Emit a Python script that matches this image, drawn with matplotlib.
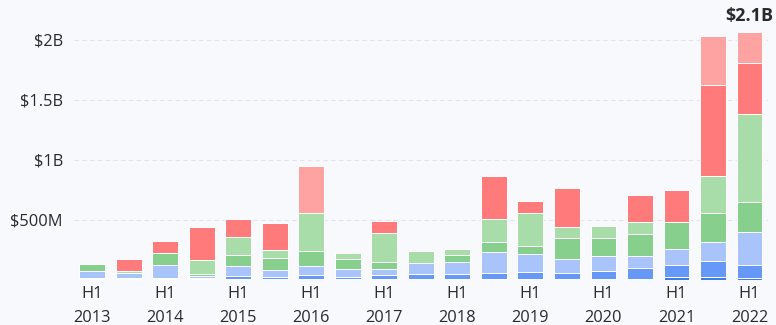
"""
半年度融资额堆叠柱状图
"""

import matplotlib
matplotlib.use("Agg")
import matplotlib.pyplot as plt
import numpy as np

plt.rcParams["font.family"] = ["Open Sans", "DejaVu Sans"]

# 半年度区间（2013 H1 - 2022 H1）
periods = [
    "H1 2013", "H2 2013", "H1 2014", "H2 2014", "H1 2015", "H2 2015",
    "H1 2016", "H2 2016", "H1 2017", "H2 2017", "H1 2018", "H2 2018",
    "H1 2019", "H2 2019", "H1 2020", "H2 2020", "H1 2021", "H2 2021",
    "H1 2022",
]

# 各分类金额（百万美元），自下而上堆叠
dark_blue = [5, 5, 5, 8, 8, 8, 8, 8, 8, 8, 8, 8, 8, 8, 8, 8, 22, 22, 14]
blue = [12, 12, 12, 8, 22, 19, 33, 19, 36, 42, 42, 47, 61, 53, 69, 94, 100, 138, 111]
light_blue = [55, 40, 112, 17, 83, 56, 78, 62, 45, 89, 100, 175, 145, 114, 122, 97, 133, 158, 272]
green = [58, 3, 94, 17, 97, 103, 125, 83, 58, 0, 61, 88, 69, 175, 153, 183, 225, 237, 255]
light_green = [0, 12, 0, 117, 145, 64, 312, 53, 244, 105, 47, 189, 278, 94, 97, 97, 0, 311, 728]
red = [0, 100, 100, 275, 153, 222, 0, 0, 103, 0, 0, 361, 97, 320, 0, 228, 267, 758, 430]
light_red = [0, 0, 0, 0, 0, 0, 397, 0, 0, 0, 0, 0, 0, 0, 0, 0, 0, 408, 253]

series = [dark_blue, blue, light_blue, green, light_green, red, light_red]
colors = ["#3f7de6", "#6699f7", "#a8c4fb", "#86cf8c", "#a8dca9", "#ff7b7b", "#ffa2a2"]

y_ticks = [500, 1000, 1500, 2000]
y_tick_labels = ["$500M", "$1B", "$1.5B", "$2B"]

fig = plt.figure(figsize=(7.76, 3.25), dpi=100)
fig.patch.set_facecolor("#f8f9fd")
ax = fig.add_axes([0.0954, 0.1385, 0.894, 0.794])
ax.set_facecolor("#f8f9fd")

x = np.arange(len(periods))
bottom = np.zeros(len(periods))
for vals, color in zip(series, colors):
    vals = np.array(vals, dtype=float)
    ax.bar(x, vals, 0.71, bottom=bottom, color=color,
           edgecolor="white", linewidth=0.7, zorder=3)
    bottom += vals

# 最后一期的合计标注
total = bottom[-1]
ax.text(x[-1], total + 60, f"${total / 1000:.1f}B", ha="center", va="bottom",
        fontsize=13, fontweight="bold", color="#2a2a2a", clip_on=False)

ax.set_xlim(-0.5, len(periods) - 0.5)
ax.set_ylim(0, 2150)
ax.set_yticks(y_ticks)
ax.set_yticklabels(y_tick_labels)
ax.grid(axis="y", color="#e2e5ec", linestyle=(0, (4, 3)), linewidth=0.8, zorder=0)

ax.set_xticks(x[::2])
ax.set_xticklabels([p.replace(" ", "\n") for p in periods[::2]],
                   linespacing=1.7)
ax.tick_params(axis="both", length=0, labelsize=11.8, labelcolor="#2a2a2a")
ax.tick_params(axis="y", pad=8)
ax.tick_params(axis="x", pad=4)
for spine in ax.spines.values():
    spine.set_visible(False)

plt.savefig("out.png", dpi=100, facecolor=fig.get_facecolor())
plt.close()
